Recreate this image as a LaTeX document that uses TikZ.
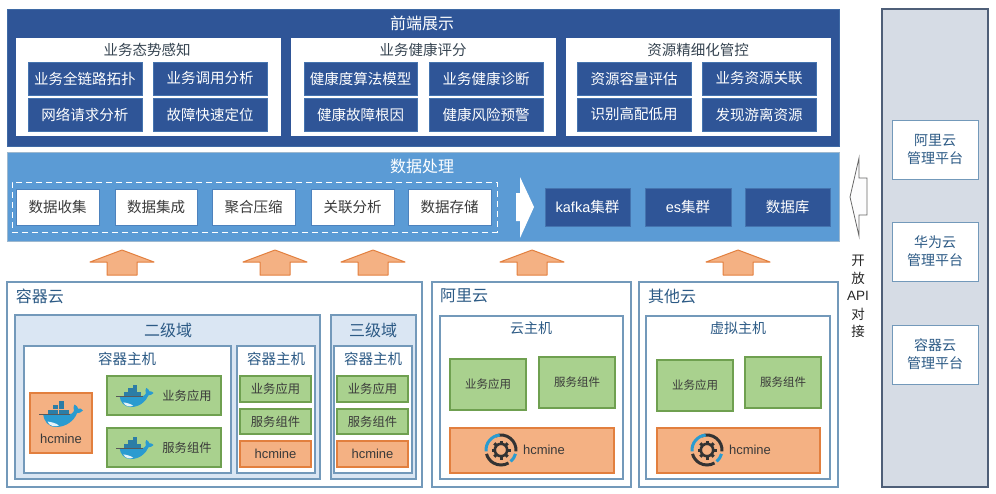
\documentclass[tikz,border=0pt]{standalone}
\usepackage{fontspec}
\setmainfont{Noto Sans CJK SC}
\newfontfamily\lat{Liberation Sans}
\definecolor{navy}{HTML}{2F5597}
\definecolor{navyline}{HTML}{3F6AA5}
\definecolor{midblue}{HTML}{5B9BD5}
\definecolor{paleblue}{HTML}{DAE6F3}
\definecolor{frame}{HTML}{7399BA}
\definecolor{grn}{HTML}{A9D18E}
\definecolor{grnline}{HTML}{6FA050}
\definecolor{org}{HTML}{F4B183}
\definecolor{orgline}{HTML}{E27F3E}
\definecolor{graypanel}{HTML}{D6DCE5}
\definecolor{sideline}{HTML}{4F5F78}
\definecolor{titleink}{HTML}{2C5A85}
\definecolor{ink}{HTML}{3A3A3A}
\definecolor{whaleblue}{HTML}{2A9BD0}
\definecolor{crate}{HTML}{2C7DA6}
\newcommand{\fs}[1]{\fontsize{#1}{#1}\selectfont}
\tikzset{
  boxbase/.style={inner sep=0pt,outer sep=0pt,align=center},
  navypanel/.style={boxbase,fill=navy,draw=navyline,line width=1pt},
  bluepanel/.style={boxbase,fill=midblue,draw=frame!70!white,line width=1pt},
  whitecard/.style={boxbase,fill=white,draw=white,line width=.6pt},
  navybox/.style={boxbase,fill=navy,draw=navyline!80!midblue,line width=1pt,text=white,font=\fs{14.5}},
  procbox/.style={boxbase,fill=white,draw=navyline!50!midblue,line width=.8pt,text=ink,font=\fs{14.5}},
  framebox/.style={boxbase,fill=white,draw=frame,line width=1.1pt},
  zonebox/.style={boxbase,fill=paleblue,draw=frame,line width=1.1pt},
  greenbox/.style={boxbase,fill=grn,draw=grnline,line width=1.2pt,text=ink,font=\fs{12.3}},
  orangebox/.style={boxbase,fill=org,draw=orgline,line width=1.2pt,text=ink,font=\fs{13}\lat},
  grayside/.style={boxbase,fill=graypanel,draw=sideline,line width=1.2pt},
  platbox/.style={boxbase,fill=white,draw=frame,line width=1pt,text=titleink,font=\fs{14}},
  heading/.style={inner sep=0pt,outer sep=0pt,text=titleink,font=\fs{16}},
  subheading/.style={inner sep=0pt,outer sep=0pt,text=titleink,font=\fs{14.5}},
  lighthead/.style={inner sep=0pt,outer sep=0pt,text=white,font=\fs{16}},
  uparrow/.style={fill=org,draw=orgline,line width=1pt,line join=round},
}
% name, x1, y1, x2, y2, style, text
\newcommand{\bx}[7]{\node[#6,minimum width={(#4-#2)*1pt},minimum height={(#5-#3)*1pt}] (#1) at ({(#2+#4)/2},{(#3+#5)/2}) {#7};}
% block arrow pointing up, centred on x
\newcommand{\uparr}[1]{\draw[uparrow] (#1-32,262) -- (#1,250) -- (#1+32,262) -- (#1+15,262) -- (#1+15,275) -- (#1-15,275) -- (#1-15,262) -- cycle;}
% docker whale: centre x, y, scale
\newcommand{\whale}[3]{\begin{scope}[shift={(#1,#2)},scale=#3]
  \foreach \cx/\cy in {-1.5/-13.5,-6.7/-9,-1.5/-9,-12/-4.5,-6.7/-4.5,-1.5/-4.5,3.7/-4.5}{
    \fill[crate] (\cx,\cy) rectangle ++(5,4.3);
  }
  \fill[whaleblue] (-17,0) -- (9,0) .. controls (11,0.5) and (13,-0.5) .. (14,-3)
    .. controls (13,-6) and (13.5,-8) .. (14.5,-9.5) .. controls (16.5,-8.5) and (18,-7) .. (18,-5.5)
    .. controls (20,-6) and (22,-5) .. (23,-3.5) .. controls (21,-1.5) and (19,-.8) .. (17,-.8)
    .. controls (14,7) and (6,13) .. (-4,13) .. controls (-12,13) and (-16,7) .. (-17,0) -- cycle;
  \fill[white!88!whaleblue] (-12.5,7.5) .. controls (-9,8) and (-4,9) .. (-1,11.5) .. controls (-5,13) and (-10.5,12.5) .. (-12.5,7.5) -- cycle;
  \draw[black!65,line width=.4pt] (-21,0) -- (10,0);
\end{scope}}
% operator gear icon: centre x, y
\newcommand{\gearicon}[2]{\begin{scope}[shift={(#1,#2)}]
  \foreach \a in {0,45,...,315}{\draw[black!80,line width=3pt] (\a:6pt) -- (\a:9.5pt);}
  \draw[black!80,line width=2.6pt] (0,0) circle[radius=6.2pt];
  \draw[black!80,line width=3pt] (110:15pt) arc[start angle=110,end angle=-5,radius=15pt];
  \draw[black!80,line width=3pt] (-60:15pt) arc[start angle=-60,end angle=-165,radius=15pt];
  \draw[whaleblue,line width=3pt] (185:15pt) arc[start angle=185,end angle=95,radius=15pt];
  \draw[whaleblue,line width=3pt] (-15:15pt) arc[start angle=-15,end angle=-50,radius=15pt];
\end{scope}}
\begin{document}
\begin{tikzpicture}[x=1pt,y=-1pt]
\useasboundingbox (0,0) rectangle (996,493);
% front-end panel
\bx{front}{7}{9}{839}{146}{navypanel}{}
\node[lighthead] (frontT) at (422,23) {前端展示};
\bx{cardA}{16}{38}{280}{135}{whitecard}{}
\bx{cardB}{291}{38}{555}{135}{whitecard}{}
\bx{cardC}{566}{38}{830}{135}{whitecard}{}
\node[subheading,text=ink!70!titleink] (cardAT) at (147,50) {业务态势感知};
\node[subheading,text=ink!70!titleink] (cardBT) at (423,50) {业务健康评分};
\node[subheading,text=ink!70!titleink] (cardCT) at (698,50) {资源精细化管控};
\bx{a1}{28}{62}{142}{95}{navybox}{业务全链路拓扑}
\bx{a2}{153}{62}{267}{95}{navybox}{业务调用分析}
\bx{a3}{28}{98}{142}{131}{navybox}{网络请求分析}
\bx{a4}{153}{98}{267}{131}{navybox}{故障快速定位}
\bx{b1}{304}{62}{417}{95}{navybox}{健康度算法模型}
\bx{b2}{429}{62}{543}{95}{navybox}{业务健康诊断}
\bx{b3}{304}{98}{417}{131}{navybox}{健康故障根因}
\bx{b4}{429}{98}{543}{131}{navybox}{健康风险预警}
\bx{c1}{577}{62}{691}{95}{navybox}{资源容量评估}
\bx{c2}{702}{62}{816}{95}{navybox}{业务资源关联}
\bx{c3}{577}{98}{691}{131}{navybox}{识别高配低用}
\bx{c4}{702}{98}{816}{131}{navybox}{发现游离资源}
% data processing panel
\bx{data}{7}{152}{839}{241}{bluepanel}{}
\node[lighthead] (dataT) at (422,166) {数据处理};
\bx{dash}{12}{182}{497}{232}{boxbase,draw=white,dash pattern=on 6pt off 4pt,line width=1pt}{}
\bx{p1}{16}{189}{99}{225}{procbox}{数据收集}
\bx{p2}{115}{189}{197}{225}{procbox}{数据集成}
\bx{p3}{212}{189}{295}{225}{procbox}{聚合压缩}
\bx{p4}{311}{189}{394}{225}{procbox}{关联分析}
\bx{p5}{408}{189}{491}{225}{procbox}{数据存储}
\fill[white] (520,177) -- (534,207) -- (520,238) -- (520,221) -- (516,221) -- (516,193) -- (520,193) -- cycle;
\bx{kafka}{545}{188}{630}{226}{navybox}{{\lat kafka}集群}
\bx{es}{645}{188}{731}{226}{navybox}{{\lat es}集群}
\bx{db}{745}{188}{830}{226}{navybox}{数据库}
% up arrows
\uparr{122}\uparr{275}\uparr{373}\uparr{532}\uparr{738}
% container cloud
\bx{ccloud}{7}{282}{422}{487}{framebox}{}
\node[heading,anchor=west] (ccloudT) at (16,296) {容器云};
\bx{zone2}{15}{315}{320}{479}{zonebox}{}
\bx{zone3}{331}{315}{416}{479}{zonebox}{}
\node[heading] (zone2T) at (168,330) {二级域};
\node[heading] (zone3T) at (373,330) {三级域};
\bx{hostA}{24}{346}{231}{473}{framebox}{}
\bx{hostB}{237}{346}{315}{473}{framebox}{}
\bx{hostC}{334}{346}{412}{473}{framebox}{}
\node[subheading] (hostAT) at (127,359) {容器主机};
\node[subheading] (hostBT) at (276,359) {容器主机};
\node[subheading] (hostCT) at (373,359) {容器主机};
\bx{hcA}{30}{393}{92}{453}{orangebox}{}
\node[inner sep=0pt,font=\fs{13}\lat,text=ink] (hcAT) at (61,439) {hcmine};
\whale{60}{414}{1}
\bx{appA}{107}{376}{221}{415}{greenbox}{}
\bx{svcA}{107}{428}{221}{467}{greenbox}{}
\node[inner sep=0pt,font=\fs{12.3},text=ink] (appAT) at (187,396) {业务应用};
\node[inner sep=0pt,font=\fs{12.3},text=ink] (svcAT) at (187,448) {服务组件};
\whale{134}{396}{.85}
\whale{134}{448}{.85}
\bx{appB}{240}{376}{311}{402}{greenbox}{业务应用}
\bx{svcB}{240}{409}{311}{434}{greenbox}{服务组件}
\bx{hcB}{240}{441}{311}{467}{orangebox}{hcmine}
\bx{appC}{337}{376}{408}{402}{greenbox}{业务应用}
\bx{svcC}{337}{409}{408}{434}{greenbox}{服务组件}
\bx{hcC}{337}{441}{408}{467}{orangebox}{hcmine}
% Ali cloud
\bx{ali}{432}{282}{631}{487}{framebox}{}
\node[heading,anchor=west] (aliT) at (440,296) {阿里云};
\bx{aliH}{440}{316}{623}{479}{framebox}{}
\node[subheading,font=\fs{14}] (aliHT) at (531,328) {云主机};
\bx{aliApp}{450}{359}{526}{410}{greenbox,font=\fs{11.5}}{业务应用}
\bx{aliSvc}{539}{357}{615}{408}{greenbox,font=\fs{11.5}}{服务组件}
\bx{aliHc}{450}{428}{614}{473}{orangebox}{}
\gearicon{501}{450}
\node[inner sep=0pt,font=\fs{13}\lat,text=ink] (aliHcT) at (544,450) {hcmine};
% other cloud
\bx{oth}{639}{282}{838}{487}{framebox}{}
\node[heading,anchor=west] (othT) at (648,296) {其他云};
\bx{othH}{646}{316}{830}{479}{framebox}{}
\node[subheading,font=\fs{14}] (othHT) at (738,328) {虚拟主机};
\bx{othApp}{657}{360}{733}{411}{greenbox,font=\fs{11.5}}{业务应用}
\bx{othSvc}{745}{357}{821}{408}{greenbox,font=\fs{11.5}}{服务组件}
\bx{othHc}{657}{428}{820}{473}{orangebox}{}
\gearicon{707}{450}
\node[inner sep=0pt,font=\fs{13}\lat,text=ink] (othHcT) at (750,450) {hcmine};
% side panel
\bx{side}{882}{9}{988}{487}{grayside}{}
\bx{pa}{892}{120}{978}{179}{platbox}{阿里云\\[4pt]管理平台}
\bx{pb}{892}{222}{978}{281}{platbox}{华为云\\[4pt]管理平台}
\bx{pc}{892}{325}{978}{384}{platbox}{容器云\\[4pt]管理平台}
\draw[fill=white!92!graypanel,draw=black!60,line width=.8pt,line join=miter] (859,158) -- (850,197) -- (859,236) -- (859,215) -- (867,215) -- (867,178) -- (859,178) -- cycle;
\node[inner sep=0pt,font=\fs{13.5},text=black!85] (o1) at (858,261) {开};
\node[inner sep=0pt,font=\fs{13.5},text=black!85] (o2) at (858,278) {放};
\node[inner sep=0pt,font=\fs{13.5}\lat,text=black!85] (o3) at (858,296) {API};
\node[inner sep=0pt,font=\fs{13.5},text=black!85] (o4) at (858,314) {对};
\node[inner sep=0pt,font=\fs{13.5},text=black!85] (o5) at (858,331) {接};
\end{tikzpicture}
\end{document}
